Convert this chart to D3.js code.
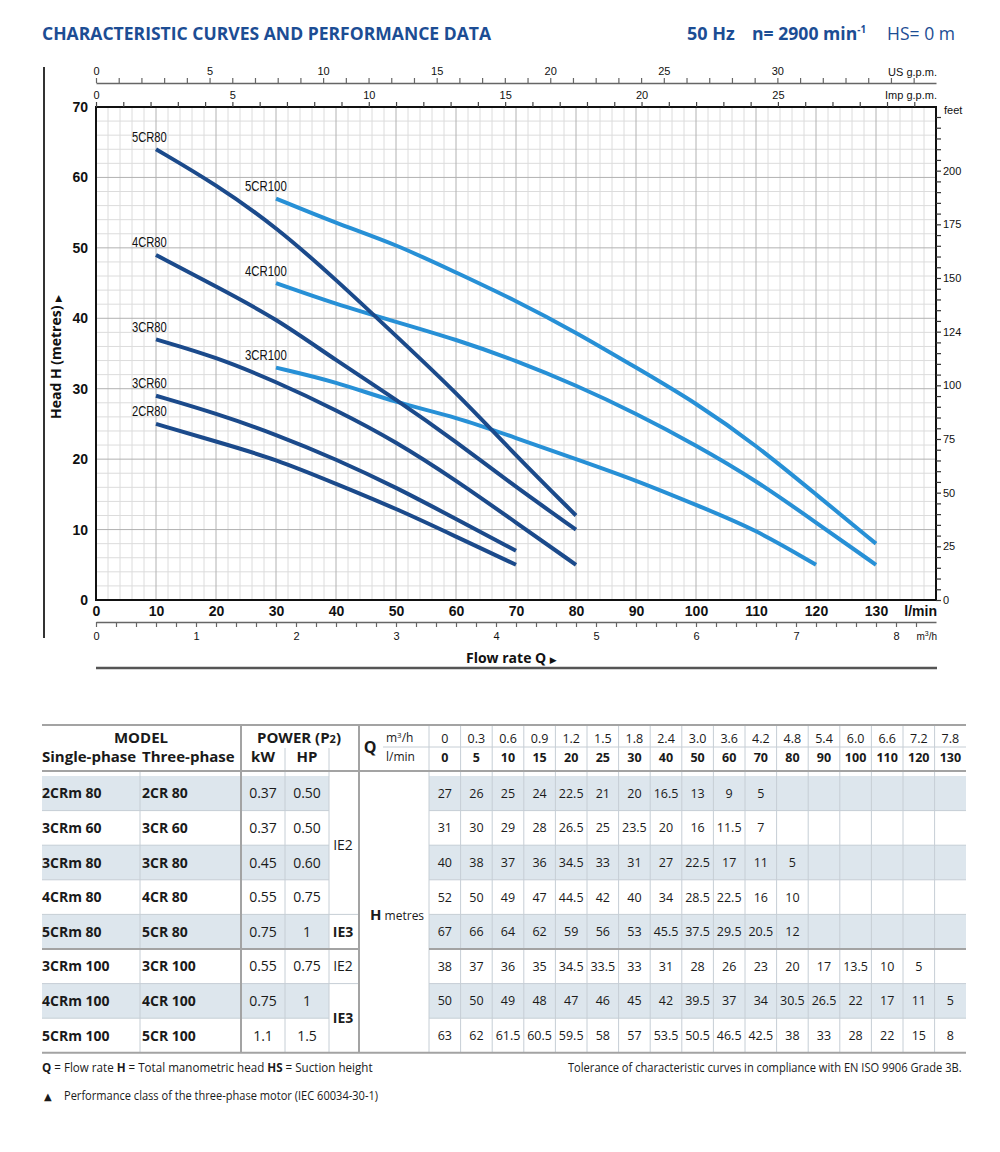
<!DOCTYPE html>
<html><head><meta charset="utf-8">
<script src="https://cdn.jsdelivr.net/npm/d3@7"></script>
<style>
body{margin:0;background:#fff;}
svg{display:block;}
</style></head>
<body>
<svg id="c" width="1000" height="1152"></svg>
<script>
// ---------------- DATA ----------------
const flowLmin = [0,5,10,15,20,25,30,40,50,60,70,80,90,100,110,120,130];
const flowM3h = ["0","0.3","0.6","0.9","1.2","1.5","1.8","2.4","3.0","3.6","4.2","4.8","5.4","6.0","6.6","7.2","7.8"];
const singlePhase = ["2CRm 80","3CRm 60","3CRm 80","4CRm 80","5CRm 80","3CRm 100","4CRm 100","5CRm 100"];
const threePhase = ["2CR 80","3CR 60","3CR 80","4CR 80","5CR 80","3CR 100","4CR 100","5CR 100"];
const powerKW = ["0.37","0.37","0.45","0.55","0.75","0.55","0.75","1.1"];
const powerHP = ["0.50","0.50","0.60","0.75","1","0.75","1","1.5"];
const headValues = [
  [27,26,25,24,22.5,21,20,16.5,13,9,5],
  [31,30,29,28,26.5,25,23.5,20,16,11.5,7],
  [40,38,37,36,34.5,33,31,27,22.5,17,11,5],
  [52,50,49,47,44.5,42,40,34,28.5,22.5,16,10],
  [67,66,64,62,59,56,53,45.5,37.5,29.5,20.5,12],
  [38,37,36,35,34.5,33.5,33,31,28,26,23,20,17,13.5,10,5],
  [50,50,49,48,47,46,45,42,39.5,37,34,30.5,26.5,22,17,11,5],
  [63,62,61.5,60.5,59.5,58,57,53.5,50.5,46.5,42.5,38,33,28,22,15,8]
];
const curveNames = ["2CR80","3CR60","3CR80","4CR80","5CR80","3CR100","4CR100","5CR100"];
const curveStartQ = [10,10,10,10,10,30,30,30];
const curveSeries = ["80","80","80","80","80","100","100","100"];
// IE class groups: [label, firstRow, lastRow, bold]
const ieGroups = [["IE2",0,3,false],["IE3",4,4,true],["IE2",5,5,false],["IE3",6,7,true]];
const headTicks = [0,10,20,30,40,50,60,70];
const lminTicks = [0,10,20,30,40,50,60,70,80,90,100,110,120,130];
const feetLabels = ["0","25","50","75","100","124","150","175","200"];

// ---------------- SETUP ----------------
const svg = d3.select("#c");
const BLUE = "#1c4d94";
const DARK = "#1b4a8b", LIGHT = "#2790d6";
const ARIAL = "'Liberation Sans', Arial, sans-serif";
const OPEN = "'Open Sans', sans-serif";

const x = d3.scaleLinear().domain([0,140]).range([96,936]);
const y = d3.scaleLinear().domain([0,70]).range([600,107]);
const xUS = d3.scaleLinear().domain([0,140/3.78541]).range([96,936]);
const xImp = d3.scaleLinear().domain([0,140/4.54609]).range([96,936]);
const xM3 = d3.scaleLinear().domain([0,140*0.06]).range([96,936]);
const yFt = d3.scaleLinear().domain([0,70/0.3048]).range([600,107]);

// text squeezed horizontally to a given width (condensed look)
function fitText(parent, x0, y0, width, anchor, build){
  const g = parent.append("g");
  const t = g.append("text").attr("x",0).attr("y",0);
  build(t);
  const w = t.node().getBBox().width || 1;
  const s = width / w;
  const left = anchor==="end" ? x0 - width : (anchor==="middle" ? x0 - width/2 : x0);
  g.attr("transform",`translate(${left},${y0}) scale(${s},1)`);
  return t;
}

// ---------------- TITLE ----------------
fitText(svg,42,40,450,"start",t=>t.attr("font-family",OPEN).attr("font-weight",700).attr("font-size",18)
  .attr("fill",BLUE).text("CHARACTERISTIC CURVES AND PERFORMANCE DATA"));
fitText(svg,687,40,48,"start",t=>t.attr("font-family",OPEN).attr("font-weight",700).attr("font-size",18)
  .attr("fill",BLUE).text("50 Hz"));
fitText(svg,752,40,114,"start",t=>{
  t.attr("font-family",OPEN).attr("font-weight",700).attr("font-size",18).attr("fill",BLUE);
  t.append("tspan").text("n= 2900 min");
  t.append("tspan").attr("font-size",10).attr("dy",-7).text("-1");
});
fitText(svg,887,40,68,"start",t=>t.attr("font-family",OPEN).attr("font-weight",400).attr("font-size",18)
  .attr("fill",BLUE).text("HS= 0 m"));

// ---------------- GRID ----------------
const grid = svg.append("g");
[false,true].forEach(major=>{
  d3.range(0,141,2).filter(v=>(v%10===0)===major).forEach(v=>{
    grid.append("line").attr("x1",x(v)).attr("x2",x(v)).attr("y1",y(0)).attr("y2",y(70))
      .attr("stroke",major?"#b2b2b2":"#dcdcdc").attr("stroke-width",1);
  });
  d3.range(0,71,2).filter(v=>(v%10===0)===major).forEach(v=>{
    grid.append("line").attr("x1",x(0)).attr("x2",x(140)).attr("y1",y(v)).attr("y2",y(v))
      .attr("stroke",major?"#b2b2b2":"#dcdcdc").attr("stroke-width",1);
  });
});

// ---------------- CURVES ----------------
const line = d3.line().x(d=>x(d.q)).y(d=>y(d.h)).curve(d3.curveBasis);
const order = [5,6,7,0,1,2,3,4];
order.forEach(i=>{
  const pts = flowLmin.map((q,j)=>({q,h:headValues[i][j]}))
    .filter(d=>d.h!==undefined && d.q>=curveStartQ[i] && d.q%10===0);
  svg.append("path").attr("d",line(pts)).attr("fill","none")
    .attr("stroke",curveSeries[i]==="80"?DARK:LIGHT).attr("stroke-width",4).attr("stroke-linecap","butt");
});
curveNames.forEach((name,i)=>{
  const q0 = curveStartQ[i];
  const h0 = headValues[i][flowLmin.indexOf(q0)];
  fitText(svg,x(q0)+11,y(h0)-7.5,name.length*7,"end",t=>t.attr("font-family",ARIAL)
    .attr("font-size",14).attr("fill","#111").text(name));
});

// frame
svg.append("rect").attr("x",x(0)).attr("y",y(70)).attr("width",x(140)-x(0)).attr("height",y(0)-y(70))
  .attr("fill","none").attr("stroke","#111").attr("stroke-width",2);

// ---------------- AXES ----------------
function styleAxis(g, color, fontFamily, fontSize, weight){
  g.selectAll("line").attr("stroke",color).attr("stroke-width",1.2);
  g.selectAll("path.domain").attr("stroke",color).attr("stroke-width",1.5);
  g.selectAll("text").attr("font-family",fontFamily).attr("font-size",fontSize).attr("font-weight",weight).attr("fill","#111");
}
const gUS = svg.append("g").attr("transform","translate(0,83)")
  .call(d3.axisTop(xUS).tickValues(d3.range(0,37)).tickSize(5).tickSizeOuter(0)
  .tickFormat(d=>(d%5===0&&d<=30)?d:""));
styleAxis(gUS,"#666",ARIAL,11,400);
svg.append("text").attr("x",937).attr("y",76).attr("text-anchor","end").attr("font-family",ARIAL)
  .attr("font-size",11).attr("fill","#111").text("US g.p.m.");
const gImp = svg.append("g").attr("transform","translate(0,107)")
  .call(d3.axisTop(xImp).tickValues(d3.range(0,31)).tickSize(5).tickSizeOuter(0)
  .tickFormat(d=>(d%5===0&&d<=25)?d:""));
gImp.select("path.domain").remove();
styleAxis(gImp,"#444",ARIAL,11,400);
svg.append("text").attr("x",937).attr("y",99).attr("text-anchor","end").attr("font-family",ARIAL)
  .attr("font-size",11).attr("fill","#111").text("Imp g.p.m.");
const gL = svg.append("g").attr("transform","translate(96,0)")
  .call(d3.axisLeft(y).tickValues(headTicks).tickSize(0).tickPadding(8));
gL.select("path.domain").remove();
styleAxis(gL,"#111",ARIAL,14,700);
const gR = svg.append("g").attr("transform","translate(936,0)")
  .call(d3.axisRight(yFt).tickValues(d3.range(0,226,5)).tickSize(5).tickPadding(2)
  .tickFormat(d=>d%25===0&&feetLabels[d/25]!==undefined?feetLabels[d/25]:""));
gR.select("path.domain").remove();
styleAxis(gR,"#333",ARIAL,11,400);
svg.append("text").attr("x",944).attr("y",114).attr("font-family",ARIAL).attr("font-size",11)
  .attr("fill","#111").text("feet");
const gB = svg.append("g").attr("transform","translate(0,600)")
  .call(d3.axisBottom(x).tickValues(lminTicks).tickSize(0).tickPadding(6));
gB.select("path.domain").remove();
styleAxis(gB,"#111",ARIAL,14,700);
svg.append("text").attr("x",937).attr("y",616).attr("text-anchor","end").attr("font-family",ARIAL)
  .attr("font-size",14).attr("font-weight",700).attr("fill","#111").text("l/min");
const gM = svg.append("g").attr("transform","translate(0,622)")
  .call(d3.axisBottom(xM3).tickValues(d3.range(0,42).map(k=>k/5)).tickSize(5).tickSizeOuter(0).tickPadding(5)
  .tickFormat(d=>Math.abs(d-Math.round(d))<1e-6?Math.round(d):""));
styleAxis(gM,"#666",ARIAL,11,400);
const m3 = svg.append("text").attr("x",937).attr("y",640).attr("text-anchor","end").attr("font-family",ARIAL)
  .attr("font-size",10).attr("fill","#111");
m3.append("tspan").text("m");
m3.append("tspan").attr("font-size",7).attr("dy",-4).text("3");
m3.append("tspan").attr("dy",4).text("/h");

const ht = svg.append("text").attr("transform","translate(61,357) rotate(-90)").attr("text-anchor","middle")
  .attr("font-family",OPEN).attr("font-weight",700).attr("font-size",14).attr("fill","#111");
ht.append("tspan").text("Head H  (metres)  ");
ht.append("tspan").attr("font-size",9).attr("font-family","'DejaVu Sans'").text("\u25B6");
const ft = svg.append("text").attr("x",466).attr("y",663)
  .attr("font-family",OPEN).attr("font-weight",700).attr("font-size",14).attr("fill","#111");
ft.append("tspan").text("Flow rate  Q  ");
ft.append("tspan").attr("font-size",9).attr("font-family","'DejaVu Sans'").text("\u25B6");

svg.append("line").attr("x1",44).attr("x2",44).attr("y1",67).attr("y2",638).attr("stroke","#333").attr("stroke-width",2);
svg.append("line").attr("x1",96).attr("x2",937).attr("y1",668).attr("y2",668).attr("stroke","#555").attr("stroke-width",2.5);

// ---------------- TABLE ----------------
const T = svg.append("g");
const X0 = 42, X1 = 966;
const cSingle = 42, cThree = 140, cKW = 241, cHP = 285, cIE = 329, cQH = 359, cData = 429, dW = 31.6;
const rowTop = 776, rowH = 34.6;
const rY = i => rowTop + i*rowH;
const SHADE = "#dde6ed", LINE = "#c6ced5", DLINE = "#a3a3a3";

singlePhase.forEach((_,i)=>{
  if(i%2===0){
    T.append("rect").attr("x",cSingle).attr("y",rY(i)).attr("width",cIE-cSingle).attr("height",rowH).attr("fill",SHADE);
    T.append("rect").attr("x",cData).attr("y",rY(i)).attr("width",X1-cData).attr("height",rowH).attr("fill",SHADE);
  }
});
for(let i=1;i<8;i++){
  if(i===5) continue;
  T.append("line").attr("x1",X0).attr("x2",cIE).attr("y1",rY(i)).attr("y2",rY(i)).attr("stroke",LINE);
  T.append("line").attr("x1",cData).attr("x2",X1).attr("y1",rY(i)).attr("y2",rY(i)).attr("stroke",LINE);
}
ieGroups.forEach(g=>{ if(g[1]>0 && g[1]!==5) T.append("line").attr("x1",cIE).attr("x2",cQH).attr("y1",rY(g[1])).attr("y2",rY(g[1])).attr("stroke",LINE); });
[[cThree,771],[cHP,748],[cIE,748],[cData,725]].forEach(([v,top])=>{
  T.append("line").attr("x1",v).attr("x2",v).attr("y1",top).attr("y2",rY(8)).attr("stroke",LINE);
});
flowLmin.forEach((_,j)=>{ if(j>0) T.append("line").attr("x1",cData+j*dW).attr("x2",cData+j*dW).attr("y1",725).attr("y2",rY(8)).attr("stroke",LINE); });
T.append("line").attr("x1",383).attr("x2",X1).attr("y1",747).attr("y2",747).attr("stroke",LINE);
[[X0,X1,725,725],[X0,X1,771,771],[X0,X1,rY(8),rY(8)],[X0,cQH,rY(5),rY(5)],[cData,X1,rY(5),rY(5)],
 [cKW,cKW,725,rY(8)],[cQH,cQH,725,rY(8)]].forEach(l=>{
  T.append("line").attr("x1",l[0]).attr("x2",l[1]).attr("y1",l[2]).attr("y2",l[3]).attr("stroke",DLINE).attr("stroke-width",2);
});
function tx(xp,yc,str,size,weight,anchor){
  return T.append("text").attr("x",xp).attr("y",yc+size*0.36).attr("font-family",OPEN).attr("font-size",size)
    .attr("font-weight",weight).attr("text-anchor",anchor||"start").attr("fill","#1a1a1a").text(str);
}
tx(141,738,"MODEL",15,700,"middle");
tx(42,757,"Single-phase",15,700);
tx(142,757,"Three-phase",15,700);
const pw = tx(299,738,"POWER (P",15,700,"middle");
pw.append("tspan").attr("font-size",11).text("2");
pw.append("tspan").text(")");
tx(263,757,"kW",15,700,"middle");
tx(307,757,"HP",15,700,"middle");
tx(370,747,"Q",16,700,"middle");
const mh = tx(386,738,"m",12,400);
mh.append("tspan").attr("font-size",8).attr("dy",-4).text("3");
mh.append("tspan").attr("dy",4).text("/h");
tx(386,757,"l/min",12,400);
flowM3h.forEach((v,j)=>tx(cData+(j+0.5)*dW,738,v,12.5,400,"middle"));
flowLmin.forEach((v,j)=>tx(cData+(j+0.5)*dW,757,v,12.5,700,"middle"));
singlePhase.forEach((name,i)=>{
  const yc = rY(i)+rowH/2;
  tx(42,yc,name,14,700);
  tx(142,yc,threePhase[i],14,700);
  tx(263,yc,powerKW[i],14,400,"middle");
  tx(307,yc,powerHP[i],14,400,"middle");
  headValues[i].forEach((v,j)=>tx(cData+(j+0.5)*dW,yc,v,12.5,400,"middle"));
});
ieGroups.forEach(g=>{
  const yc = (rY(g[1])+rY(g[2]+1))/2;
  tx(343,yc,g[0],14,g[3]?700:400,"middle");
});
const hm = tx(370,(rY(0)+rY(8))/2,"H",15,700);
hm.append("tspan").attr("font-size",12).attr("font-weight",400).text("  metres");

// ---------------- FOOTER ----------------
fitText(svg,42,1072,331,"start",t=>{
  t.attr("font-family",OPEN).attr("font-size",12).attr("fill","#1a1a1a");
  t.append("tspan").attr("font-weight",700).text("Q");
  t.append("tspan").text(" = Flow rate   ");
  t.append("tspan").attr("font-weight",700).text("H");
  t.append("tspan").text(" = Total manometric head   ");
  t.append("tspan").attr("font-weight",700).text("HS");
  t.append("tspan").text(" = Suction height");
});
fitText(svg,568,1072,394,"start",t=>t.attr("font-family",OPEN).attr("font-size",12).attr("fill","#1a1a1a")
  .text("Tolerance of characteristic curves in compliance with EN ISO 9906 Grade 3B."));
svg.append("text").attr("x",44).attr("y",1100).attr("font-family","'DejaVu Sans'").attr("font-size",10)
  .attr("fill","#1a1a1a").text("\u25B2");
fitText(svg,64,1100,315,"start",t=>t.attr("font-family",OPEN).attr("font-size",12).attr("fill","#1a1a1a")
  .text("Performance class of the three-phase motor (IEC 60034-30-1)"));
</script>
</body></html>
